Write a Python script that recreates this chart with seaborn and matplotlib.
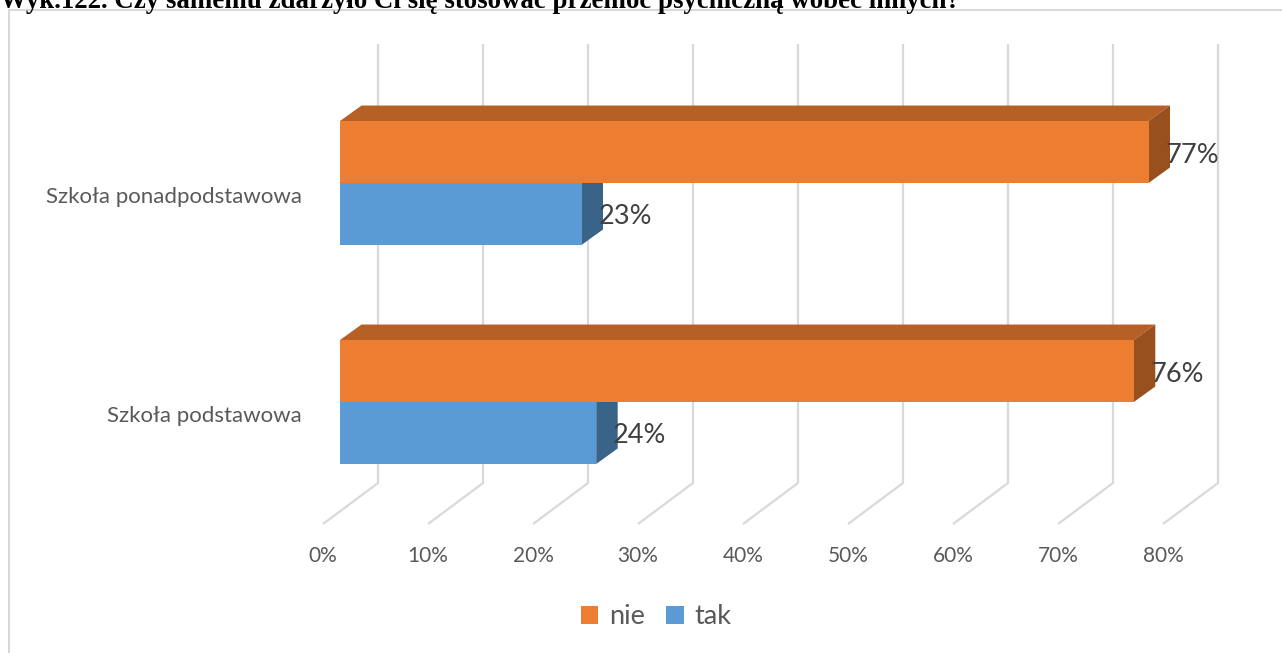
import numpy as np
import pandas as pd
import matplotlib
matplotlib.use("Agg")
import matplotlib.pyplot as plt
import matplotlib.colors as mcolors
from matplotlib.patches import Polygon, Rectangle
import seaborn as sns

# Dane
szkoly = ["Szkoła ponadpodstawowa", "Szkoła podstawowa"]
odpowiedzi = ["nie", "tak"]
nie = [77.0, 75.6]
tak = [23.0, 24.4]
ticki = [0, 10, 20, 30, 40, 50, 60, 70, 80]
tytul = "Wyk.122. Czy samemu zdarzyło Ci się stosować przemoc psychiczną wobec innych?"
kolory = {"nie": "#ED7D31", "tak": "#5B9BD5"}

df = pd.DataFrame({
    "szkola": szkoly * 2,
    "odpowiedz": ["nie"] * len(nie) + ["tak"] * len(tak),
    "procent": nie + tak,
})

sns.set_theme(style="white")
plt.rcParams["font.family"] = ["Lato", "DejaVu Sans"]

W, H = 1282, 653
fig = plt.figure(figsize=(W / 100, H / 100), dpi=100)

# osie dopasowane do ukladu pikseli oryginalu
x0_px, px_x = 340, 10.5      # 0% na przedniej plaszczyznie, px na 1%
y0_px, px_y = 183, 219       # srodek pierwszej kategorii, px na kategorie
xlim = (-5, 86)
ylim = (1.6, -0.7)
left = x0_px + xlim[0] * px_x
right = x0_px + xlim[1] * px_x
top = y0_px + ylim[1] * px_y
bottom = y0_px + ylim[0] * px_y
ax = fig.add_axes([left / W, 1 - bottom / H, (right - left) / W, (bottom - top) / H])

sns.barplot(data=df, x="procent", y="szkola", hue="odpowiedz", hue_order=odpowiedzi,
            order=szkoly, orient="h", palette=kolory, saturation=1, width=0.566,
            errorbar=None, legend=False, linewidth=0, ax=ax, zorder=3)
ax.set_xlim(*xlim)
ax.set_ylim(*ylim)
ax.axis("off")

# efekt 3D
dx, dy = 21.5 / px_x, -15.5 / px_y
wall_dx = 38 / px_x
floor_dx, floor_dy = -55 / px_x, 41 / px_y
wall_top, wall_bot = (44 - y0_px) / px_y, (483 - y0_px) / px_y

grid_kolor = "#d9d9d9"
for t in ticki:
    xw = t + wall_dx
    ax.plot([xw, xw, xw + floor_dx], [wall_top, wall_bot, wall_bot + floor_dy],
            color=grid_kolor, lw=1.6, zorder=1, solid_capstyle="butt", clip_on=False)
    ax.text(xw + floor_dx, (556 - y0_px) / px_y, f"{t}%", ha="center", va="center",
            fontsize=15, color="#595959", clip_on=False)


def ciemniej(c, f):
    r, g, b = mcolors.to_rgb(c)
    return (r * f, g * f, b * f)


for p in ax.patches[:]:
    x, y, w, h = p.get_x(), p.get_y(), p.get_width(), p.get_height()
    c = p.get_facecolor()
    gora = Polygon([(x, y), (x + dx, y + dy), (x + w + dx, y + dy), (x + w, y)],
                   closed=True, fc=ciemniej(c, 0.77), ec="none", zorder=2)
    bok = Polygon([(x + w, y), (x + w + dx, y + dy), (x + w + dx, y + h + dy), (x + w, y + h)],
                  closed=True, fc=ciemniej(c, 0.64), ec="none", zorder=2)
    ax.add_patch(gora)
    ax.add_patch(bok)
    ax.text(x + w + 17 / px_x, y + h / 2 + 3 / px_y, f"{w:.0f}%", ha="left", va="center",
            fontsize=19.5, color="#404040", zorder=4)

for i, s in enumerate(szkoly):
    ax.text((302 - x0_px) / px_x, i + 0.066, s, ha="right", va="center",
            fontsize=16, color="#595959", clip_on=False)

# legenda
uchwyty = [Rectangle((0, 0), 1, 1, fc=kolory[o], ec="none") for o in odpowiedzi]
fig.legend(uchwyty, odpowiedzi, loc="center", bbox_to_anchor=(656 / W, 1 - 617 / H),
           ncol=2, frameon=False, fontsize=19.5, labelcolor="#595959",
           handlelength=0.66, handleheight=0.66, handletextpad=0.38, columnspacing=0.8)

# ramka obszaru wykresu
fig.add_artist(Rectangle((9 / W, -0.1), 1.2, 1 - 10 / H + 0.1, transform=fig.transFigure,
                         fill=False, ec="#d9d9d9", lw=1.5))

# tytul (uciety u gory jak w oryginale)
fig.text(0.0, 1 - 8 / H, tytul, ha="left", va="baseline", fontsize=19.4,
         fontweight="bold", family="Liberation Serif", color="black")

fig.savefig("out.png", dpi=100)
